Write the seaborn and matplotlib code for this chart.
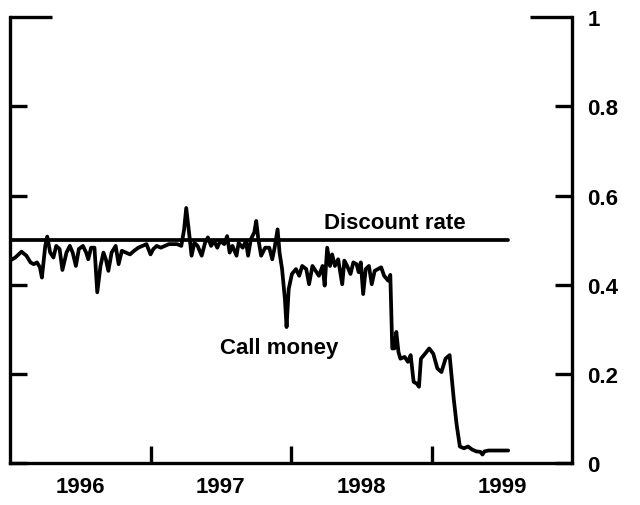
import numpy as np
import pandas as pd
import seaborn as sns
import matplotlib.pyplot as plt

# call money rate, decimal year vs percent
call_dates = [
    1996.000, 1996.038, 1996.082, 1996.117, 1996.146, 1996.169, 1996.192, 1996.213,
    1996.227, 1996.251, 1996.265, 1996.286, 1996.309, 1996.329, 1996.353, 1996.373,
    1996.402, 1996.426, 1996.446, 1996.469, 1996.490, 1996.519, 1996.542, 1996.557,
    1996.577, 1996.601, 1996.621, 1996.644, 1996.665, 1996.682, 1996.700, 1996.723,
    1996.752, 1996.773, 1996.796, 1996.825, 1996.854, 1996.883, 1996.913, 1996.942,
    1996.971, 1997.000, 1997.020, 1997.044, 1997.073, 1997.102, 1997.131, 1997.160,
    1997.189, 1997.219, 1997.239, 1997.254, 1997.277, 1997.292, 1997.312, 1997.335,
    1997.364, 1997.388, 1997.408, 1997.431, 1997.452, 1997.475, 1997.496, 1997.525,
    1997.545, 1997.563, 1997.583, 1997.612, 1997.627, 1997.656, 1997.679, 1997.694,
    1997.714, 1997.738, 1997.752, 1997.767, 1997.787, 1997.816, 1997.845, 1997.866,
    1997.883, 1997.904, 1997.918, 1997.936, 1997.956, 1997.968, 1997.983, 1998.006,
    1998.035, 1998.058, 1998.079, 1998.108, 1998.128, 1998.152, 1998.175, 1998.198,
    1998.224, 1998.239, 1998.257, 1998.277, 1998.292, 1998.312, 1998.335, 1998.364,
    1998.379, 1998.399, 1998.423, 1998.443, 1998.466, 1998.481, 1998.496, 1998.513,
    1998.531, 1998.554, 1998.574, 1998.595, 1998.618, 1998.641, 1998.662, 1998.691,
    1998.706, 1998.720, 1998.735, 1998.749, 1998.764, 1998.778, 1998.808, 1998.831,
    1998.851, 1998.872, 1998.895, 1998.910, 1998.924, 1998.953, 1998.983, 1999.012,
    1999.041, 1999.070, 1999.099, 1999.128, 1999.157, 1999.178, 1999.201, 1999.230,
    1999.259, 1999.289, 1999.318, 1999.347, 1999.362, 1999.376, 1999.405, 1999.434,
    1999.493, 1999.545,
]
call_rate = [
    0.454, 0.461, 0.474, 0.465, 0.450, 0.446, 0.450, 0.439,
    0.416, 0.487, 0.508, 0.472, 0.461, 0.487, 0.480, 0.433,
    0.472, 0.487, 0.472, 0.442, 0.480, 0.487, 0.472, 0.457,
    0.483, 0.483, 0.383, 0.442, 0.472, 0.457, 0.431, 0.472,
    0.487, 0.446, 0.476, 0.472, 0.468, 0.476, 0.483, 0.487,
    0.491, 0.468, 0.480, 0.487, 0.483, 0.487, 0.491, 0.491,
    0.491, 0.487, 0.524, 0.572, 0.509, 0.465, 0.494, 0.487,
    0.465, 0.494, 0.506, 0.487, 0.498, 0.483, 0.498, 0.491,
    0.509, 0.472, 0.487, 0.465, 0.494, 0.483, 0.498, 0.465,
    0.502, 0.517, 0.543, 0.502, 0.465, 0.483, 0.483, 0.457,
    0.483, 0.524, 0.472, 0.435, 0.368, 0.305, 0.390, 0.424,
    0.435, 0.420, 0.442, 0.435, 0.401, 0.442, 0.431, 0.420,
    0.442, 0.398, 0.483, 0.442, 0.468, 0.442, 0.457, 0.401,
    0.454, 0.442, 0.424, 0.450, 0.446, 0.428, 0.450, 0.379,
    0.435, 0.442, 0.401, 0.431, 0.435, 0.439, 0.420, 0.409,
    0.422, 0.257, 0.257, 0.294, 0.249, 0.234, 0.238, 0.227,
    0.242, 0.182, 0.178, 0.171, 0.234, 0.245, 0.257, 0.245,
    0.212, 0.204, 0.234, 0.242, 0.145, 0.086, 0.037, 0.033,
    0.037, 0.030, 0.026, 0.025, 0.019, 0.026, 0.028, 0.028,
    0.028, 0.028,
]

discount_dates = [1996.0, 1999.545]
discount_rate = [0.5, 0.5]

year_labels = ['1996', '1997', '1998', '1999']
year_label_pos = [1996.5, 1997.5, 1998.5, 1999.5]
year_ticks = [1997, 1998, 1999]
y_ticks = [0, 0.2, 0.4, 0.6, 0.8]
y_tick_labels = ['0', '0.2', '0.4', '0.6', '0.8']

call_df = pd.DataFrame({'date': call_dates, 'rate': call_rate})
disc_df = pd.DataFrame({'date': discount_dates, 'rate': discount_rate})

sns.set_style('ticks')
plt.rcParams['font.family'] = ['Liberation Sans', 'DejaVu Sans']
plt.rcParams['text.color'] = 'black'
plt.rcParams['font.weight'] = 'bold'

fig = plt.figure(figsize=(6.4, 5.06), dpi=100)
ax = fig.add_axes([0.0156, 0.083, 0.8784, 0.881])

sns.lineplot(data=disc_df, x='date', y='rate', color='black', linewidth=2.7, ax=ax)
sns.lineplot(data=call_df, x='date', y='rate', color='black', linewidth=2.7, ax=ax)

ax.set_xlim(1996, 2000)
ax.set_ylim(0, 1)
ax.set_xlabel('')
ax.set_ylabel('')

ax.spines['top'].set_visible(False)
for side in ['left', 'right', 'bottom']:
    ax.spines[side].set_linewidth(2.4)
    ax.spines[side].set_color('black')

# x: ticks at year boundaries, labels centred in each year
ax.set_xticks(year_ticks)
ax.set_xticklabels([])
ax.set_xticks(year_label_pos, minor=True)
ax.set_xticklabels(year_labels, minor=True)
ax.tick_params(axis='x', which='major', direction='in', length=12, width=2.4, color='black')
ax.tick_params(axis='x', which='minor', length=0, pad=9, labelsize=16, labelcolor='black')

# y: inward ticks on both sides, labels only on the right; longer tick at 1
ax.set_yticks(y_ticks)
ax.set_yticklabels(y_tick_labels)
ax.set_yticks([1.0], minor=True)
ax.set_yticklabels(['1'], minor=True)
ax.tick_params(axis='y', which='both', direction='in', left=True, right=True,
               labelleft=False, labelright=True, width=2.4, color='black',
               labelsize=16, labelcolor='black', pad=11)
ax.tick_params(axis='y', which='major', length=12)
ax.tick_params(axis='y', which='minor', length=30)

ax.text(1998.74, 0.539, 'Discount rate', fontsize=16, ha='center', va='center')
ax.text(1997.915, 0.26, 'Call money', fontsize=16, ha='center', va='center')

fig.savefig('out.png', dpi=100)
